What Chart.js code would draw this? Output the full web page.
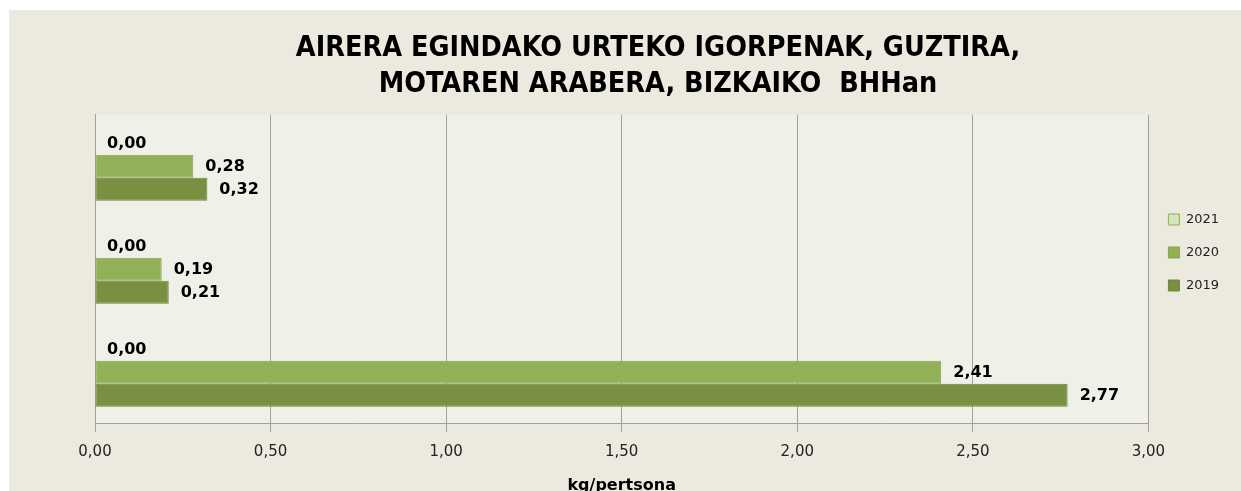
<!DOCTYPE html>
<html>
<head>
<meta charset="utf-8">
<script src="https://cdn.jsdelivr.net/npm/chart.js@4"></script>
<style>
  html, body { margin: 0; padding: 0; background: #ffffff; overflow: hidden; }
  #wrap { position: absolute; left: 9px; top: 10px; width: 1232px; height: 485px; background: #ECE9DF; }
</style>
</head>
<body>
<div id="wrap"><canvas id="chart"></canvas></div>
<script>
const categories = ['', '', ''];
const years = ['2021', '2020', '2019'];
const values2021 = [0, 0, 0];
const values2020 = [0.28, 0.19, 2.41];
const values2019 = [0.32, 0.21, 2.77];
const xTicks = [0, 0.5, 1, 1.5, 2, 2.5, 3];

const fmt = v => v.toFixed(2).replace('.', ',');

// plot area background + value labels
const extras = {
    id: 'extras',
    beforeDraw(c) {
        const a = c.chartArea;
        c.ctx.save();
        c.ctx.fillStyle = '#EFF1E9';
        c.ctx.fillRect(a.left, a.top, a.right - a.left, a.bottom - a.top);
        c.ctx.restore();
    },
    afterDatasetsDraw(c) {
        const ctx = c.ctx;
        ctx.save();
        ctx.font = 'bold 16px "DejaVu Sans"';
        ctx.fillStyle = '#000000';
        ctx.textAlign = 'left';
        ctx.textBaseline = 'middle';
        c.data.datasets.forEach((ds, i) => {
            c.getDatasetMeta(i).data.forEach((bar, j) => {
                ctx.fillText(fmt(ds.data[j]), bar.x + 12, bar.y + 1);
            });
        });
        ctx.restore();
    }
};

new Chart(document.getElementById('chart'), {
    type: 'bar',
    data: {
        labels: categories,
        datasets: [
            { label: years[0], data: values2021, backgroundColor: '#D7E4BD', borderColor: '#8DAE50', borderWidth: 1 },
            { label: years[1], data: values2020, backgroundColor: '#92B058', borderColor: '#86A44C', borderWidth: 1 },
            { label: years[2], data: values2019, backgroundColor: '#798F42', borderColor: '#6F863A', borderWidth: 1 }
        ]
    },
    options: {
        indexAxis: 'y',
        responsive: true,
        maintainAspectRatio: false,
        animation: false,
        datasets: { bar: { barPercentage: 1, categoryPercentage: 0.67, borderSkipped: false } },
        layout: { padding: { left: 78, right: 12, top: 0, bottom: 0 } },
        plugins: {
            title: {
                display: true,
                text: ['AIRERA EGINDAKO URTEKO IGORPENAK, GUZTIRA,', 'MOTAREN ARABERA, BIZKAIKO  BHHan'],
                color: '#000000',
                font: { family: '"Liberation Sans Narrow", "DejaVu Sans Condensed", sans-serif', size: 28.5, weight: 'bold', lineHeight: 1.26 },
                padding: { top: 21, bottom: 12 }
            },
            legend: {
                position: 'right',
                labels: {
                    color: '#222222',
                    font: { family: '"DejaVu Sans"', size: 13 },
                    boxWidth: 11,
                    boxHeight: 11,
                    padding: 20
                }
            },
            tooltip: { enabled: false }
        },
        scales: {
            x: {
                min: 0,
                max: 3,
                afterBuildTicks: ax => { ax.ticks = xTicks.map(v => ({ value: v })); },
                ticks: { callback: v => fmt(v), color: '#222222', font: { family: '"DejaVu Sans"', size: 15 }, padding: 11 },
                grid: { color: '#A0A0A0', tickLength: 8 },
                border: { color: '#A0A0A0' },
                title: { display: true, text: 'kg/pertsona', color: '#000000', font: { family: '"DejaVu Sans"', size: 16, weight: 'bold' }, padding: { top: 4, bottom: 0 } }
            },
            y: {
                ticks: { display: false },
                grid: { display: false },
                border: { color: '#A0A0A0' }
            }
        }
    },
    plugins: [extras]
});
</script>
</body>
</html>
